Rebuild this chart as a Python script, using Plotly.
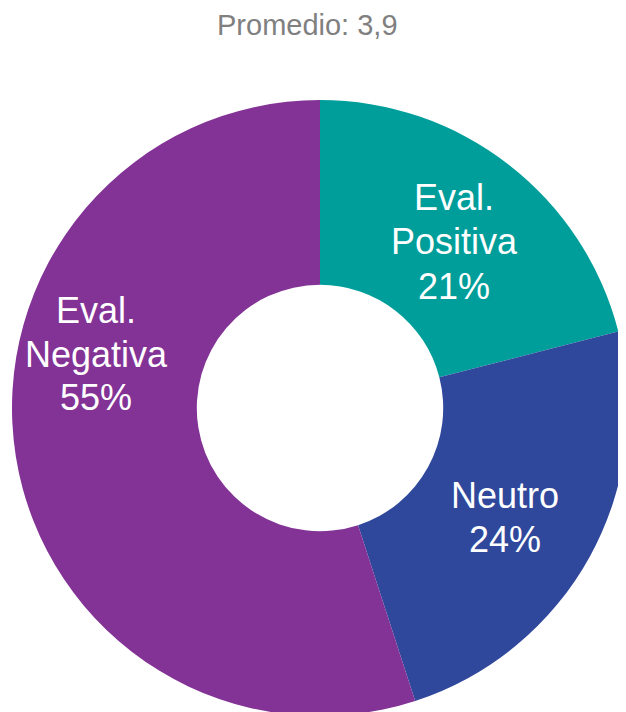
import plotly.graph_objects as go

# Data
title_text = "Promedio: 3,9"
labels = ["Eval.<br>Positiva", "Neutro", "Eval.<br>Negativa"]
values = [21, 24, 55]
colors = ["#009E9A", "#30489C", "#833296"]

W, H = 626, 712
OFF = 8  # page body margin offset

fig = go.Figure()
fig.add_trace(go.Pie(
    labels=labels,
    values=values,
    hole=0.40,
    sort=False,
    direction="clockwise",
    rotation=0,
    marker=dict(colors=colors, line=dict(width=0)),
    textinfo="none",
    hoverinfo="label+percent",
    showlegend=False,
    domain=dict(x=[4 / W, 620 / W], y=[1 - 708 / H, 1 - 92 / H]),
))

# label anchor (page pixel center x, first line center y) per slice
label_pos = [(454, 198), (505, 495), (96, 310)]
LINE = 44
for lab, val, (px, py) in zip(labels, values, label_pos):
    lines = lab.split("<br>") + [f"{val}%"]
    for i, ln in enumerate(lines):
        fig.add_annotation(
            x=(px - OFF) / W, y=1 - (py + i * LINE - OFF) / H,
            xref="paper", yref="paper",
            text=ln, showarrow=False,
            xanchor="center", yanchor="middle", align="center",
            font=dict(family="Liberation Sans, Arial, sans-serif", size=36, color="white"),
        )

fig.add_annotation(
    x=(307.5 - OFF) / W, y=1 - (25 - OFF) / H, xref="paper", yref="paper",
    text=title_text, showarrow=False, xanchor="center", yanchor="middle",
    font=dict(family="Liberation Sans, Arial, sans-serif", size=29, color="#808080"),
)

fig.update_layout(
    width=W, height=H,
    margin=dict(l=0, r=0, t=0, b=0),
    paper_bgcolor="white", plot_bgcolor="white",
)

fig.write_html("out.html")
